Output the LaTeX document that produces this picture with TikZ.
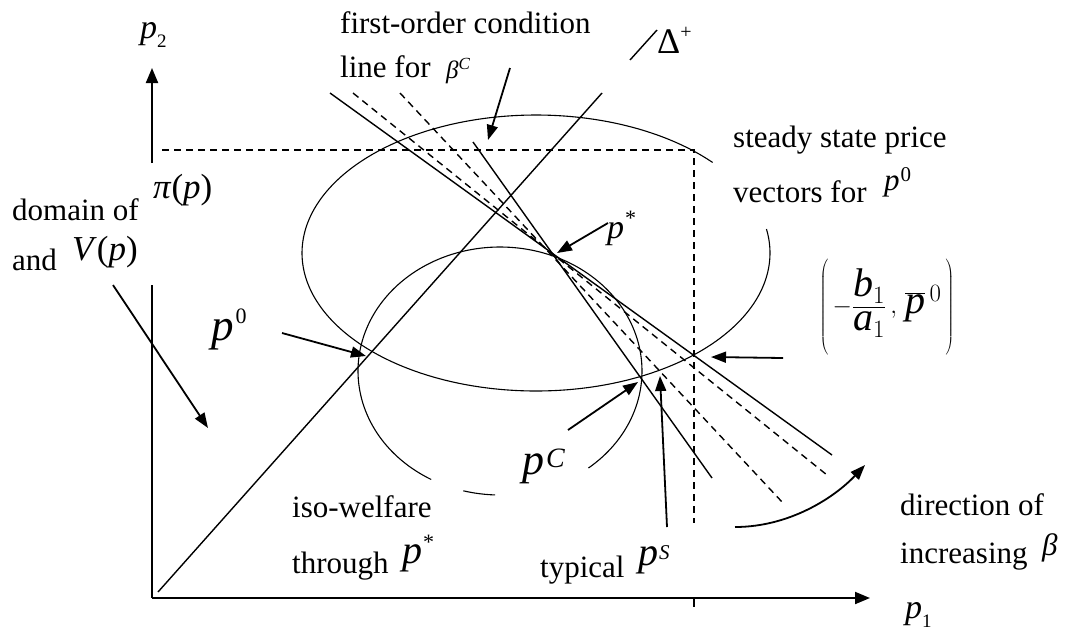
\documentclass[tikz,border=0pt]{standalone}
\usepackage{fontspec}
\setmainfont{Liberation Serif}
\usetikzlibrary{arrows.meta}
\newcommand\ip[1]{\textit{#1}}
% raised/lowered small script: #1 shift, #2 size, #3 text
\newcommand\myscr[3]{\raisebox{#1}{\fontsize{#2}{#2}\selectfont #3}}
\begin{document}
\begin{tikzpicture}[x=1pt,y=-1pt,
  lbl/.style={inner sep=0pt,anchor=base west,font=\fontsize{31}{37}\selectfont},
  axisline/.style={line width=2pt},
  axisarrow/.style={line width=2pt,-{Triangle[length=15pt,width=12pt]}},
  ptr/.style={line width=1.8pt,-{Triangle[length=15pt,width=11pt]}},
  curve/.style={line width=1.1pt},
  ln/.style={line width=1.4pt},
  dsh/.style={line width=1.4pt,dash pattern=on 7pt off 5pt},
]
\useasboundingbox (0,0) rectangle (1073,633);

% axes
\coordinate (O) at (152,598);
\coordinate (yTop) at (152,68);
\coordinate (yGapTop) at (152,163);
\coordinate (yGapBot) at (152,285);
\coordinate (xEnd) at (870,598);
\draw[axisarrow] (yGapTop) -- (yTop);
\draw[axisline] (yGapBot) -- (O);
\draw[axisarrow] (O) -- (xEnd);
\coordinate (tickA) at (694,598);
\coordinate (tickB) at (694,607);
\draw[line width=1.5pt] (tickA) -- (tickB);

% dashed bounds
\coordinate (hA) at (162,150);
\coordinate (corner) at (694,150);
\coordinate (vB) at (694,523);
\draw[dsh] (hA) -- (corner) -- (vB);

% 45 degree line
\coordinate (dgA) at (158,592);
\coordinate (dgB) at (602,93);
\draw[ln] (dgA) -- (dgB);

% steady-state ellipse
\draw[curve] plot[domain=41:370,samples=160,smooth] ({536+234*cos(\x)},{253-138*sin(\x)});
% iso-welfare curve
\draw[curve] plot[domain=-51.5:241,samples=160,smooth] ({500+142*cos(\x)},{371-124*sin(\x)});
\draw[curve] plot[domain=255:268,samples=10,smooth] ({500+142*cos(\x)},{371-124*sin(\x)});

% lines through p*
\coordinate (L1a) at (330,93);  \coordinate (L1b) at (832,455);
\coordinate (L2a) at (473,142); \coordinate (L2b) at (712,478);
\coordinate (D1a) at (353,93);  \coordinate (D1b) at (827,475);
\coordinate (D2a) at (400,93);  \coordinate (D2b) at (783,503);
\draw[ln] (L1a) -- (L1b);
\draw[ln] (L2a) -- (L2b);
\draw[dsh] (D1a) -- (D1b);
\draw[dsh] (D2a) -- (D2b);

% key points
\coordinate (pstar) at (557,253);
\coordinate (p0pt) at (366,356);
\coordinate (pCpt) at (638,382);
\coordinate (pSpt) at (660,376);
\coordinate (pbar) at (711,357);

% labels
\node[lbl] (foc1) at (340,33) {first-order condition};
\node[lbl] (foc2) at (340,77) {line for};
\node[lbl,font=\fontsize{25}{30}\selectfont] (betaC) at (446,78) {\ip{β}\myscr{9pt}{17}{\ip{C}}};
\node[lbl,font=\fontsize{36}{40}\selectfont] (delta) at (657,53) {Δ\myscr{15pt}{20}{+}};
\node[lbl,font=\fontsize{34}{40}\selectfont] (p2l) at (140,38) {\ip{p}\myscr{-9pt}{19}{2}};
\node[lbl,font=\fontsize{34}{40}\selectfont] (p1l) at (905,618) {\ip{p}\myscr{-9pt}{19}{1}};
\node[lbl] (dom1) at (12,220) {domain of};
\node[lbl,font=\fontsize{35}{40}\selectfont] (pip) at (153,198) {\ip{π}(\ip{p})};
\node[lbl] (dom2) at (12,270) {and};
\node[lbl,font=\fontsize{35}{40}\selectfont] (Vp) at (72,260) {\ip{V}(\ip{p})};
\node[lbl,font=\fontsize{45}{50}\selectfont] (p0l) at (211,340) {\ip{p}\hspace{2pt}\myscr{17pt}{22}{0}};
\node[lbl,font=\fontsize{34}{40}\selectfont] (pstl) at (607,238) {\ip{p}\hspace{1pt}\myscr{13pt}{22}{*}};
\node[lbl] (ss1) at (733,147) {steady state price};
\node[lbl] (ss2) at (733,202) {vectors for};
\node[lbl] (ss3) at (884,190) {\ip{p}\hspace{1pt}\myscr{9pt}{21}{0}};
\node[inner sep=0pt,font=\fontsize{40}{44}\selectfont] (fracl) at (887,307)
  {$\left(\vrule height 42pt depth 42pt width 0pt\,-\displaystyle\frac{\ip{b}_1}{\ip{a}_1}\,,\,\overline{\ip{p}}^{\,0}\,\right)$};
\node[lbl,font=\fontsize{44}{50}\selectfont] (pCl) at (522,474) {\ip{p}\hspace{2pt}\myscr{7pt}{28}{\ip{C}}};
\node[lbl] (iso1) at (292,517) {iso-welfare};
\node[lbl] (iso2) at (292,573) {through};
\node[lbl,font=\fontsize{40}{44}\selectfont] (iso3) at (402,563) {\ip{p}\hspace{1pt}\myscr{14pt}{22}{*}};
\node[lbl] (typ) at (540,577) {typical};
\node[lbl,font=\fontsize{40}{44}\selectfont] (typ2) at (638,565) {\ip{p}\hspace{1pt}\myscr{6pt}{21}{\ip{S}}};
\node[lbl] (dir1) at (900,515) {direction of};
\node[lbl] (dir2) at (900,563) {increasing};
\node[lbl] (dir3) at (1042,555) {\ip{β}};

% Delta leader
\coordinate (dlA) at (630,60);
\coordinate (dlB) at (657,30);
\draw[line width=1.4pt] (dlA) -- (dlB);

% pointer arrows
\coordinate (focA) at (510,68);  \coordinate (focB) at (488,140);
\draw[ptr] (focA) -- (focB);
\coordinate (pstA) at (608,223);
\draw[ptr] (pstA) -- (pstar);
\coordinate (p0A) at (282,333);
\draw[ptr] (p0A) -- (p0pt);
\coordinate (domA) at (113,285); \coordinate (domB) at (208,428);
\draw[ptr] (domA) -- (domB);
\coordinate (pCA) at (568,430);
\draw[ptr] (pCA) -- (pCpt);
\coordinate (pSA) at (667,527);
\draw[ptr] (pSA) -- (pSpt);
\coordinate (barA) at (783,358);
\draw[ptr] (barA) -- (pbar);
\coordinate (dirA) at (735,527); \coordinate (dirB) at (865,465);
\draw[ptr] (dirA) .. controls (790,527) and (835,497) .. (dirB);
\end{tikzpicture}
\end{document}
